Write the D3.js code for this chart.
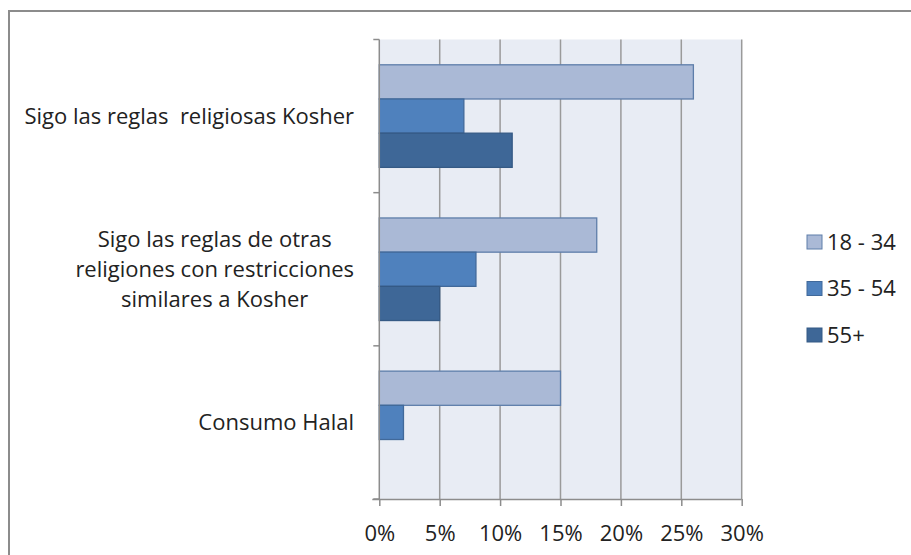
<!DOCTYPE html>
<html>
<head>
<meta charset="utf-8">
<script src="https://cdn.jsdelivr.net/npm/d3@7"></script>
<style>
  html, body { margin: 0; padding: 0; background: #fff; }
  svg { display: block; }
  text { font-family: "Open Sans", Lato, sans-serif; fill: #222; white-space: pre; }
</style>
</head>
<body>
<svg id="chart" width="911" height="555"></svg>
<script>
// ---- data ----
const categories = [
  ["Sigo las reglas  religiosas Kosher"],
  ["Sigo las reglas de otras", "religiones con restricciones", "similares a Kosher"],
  ["Consumo Halal"]
];
const seriesNames = ["18 - 34", "35 - 54", "55+"];
const values1834 = [26, 18, 15];
const values3554 = [7, 8, 2];
const values55 = [11, 5, 0];
const xTicks = [0, 5, 10, 15, 20, 25, 30];

const seriesValues = [values1834, values3554, values55];
const fills = ["#AAB9D6", "#4F81BD", "#3E6797"];
const strokes = ["#5E7EAA", "#41699A", "#355A85"];
const FONT = 22;

const svg = d3.select("#chart");

// outer border (chart area, cut off at right/bottom)
svg.append("rect")
  .attr("x", 9).attr("y", 11)
  .attr("width", 960).attr("height", 600)
  .attr("fill", "#fff").attr("stroke", "#8c8c8c").attr("stroke-width", 2);

const plot = { left: 379.3, right: 741.7, top: 39.5, bottom: 499 };

const x = d3.scaleLinear().domain([0, 30]).range([plot.left, plot.right]);
const y = d3.scaleBand().domain(d3.range(categories.length)).range([plot.top, plot.bottom]).paddingInner(0).paddingOuter(0);
const yInner = d3.scaleBand().domain(d3.range(seriesNames.length)).range([0, y.bandwidth()]).paddingInner(0).paddingOuter(0.74);

// plot background
svg.append("rect")
  .attr("x", plot.left).attr("y", plot.top)
  .attr("width", plot.right - plot.left).attr("height", plot.bottom - plot.top)
  .attr("fill", "#E8ECF4");

// gridlines
svg.append("g").selectAll("line").data(xTicks.slice(1)).join("line")
  .attr("x1", d => x(d)).attr("x2", d => x(d))
  .attr("y1", plot.top).attr("y2", plot.bottom)
  .attr("stroke", "#9a9a9a").attr("stroke-width", 1.5);

// bars
const gCat = svg.append("g").selectAll("g").data(categories).join("g")
  .attr("transform", (d, i) => `translate(0,${y(i)})`);

gCat.each(function(d, ci) {
  d3.select(this).selectAll("rect").data(seriesValues.map(s => s[ci])).join("rect")
    .attr("x", x(0))
    .attr("y", (v, si) => yInner(si))
    .attr("width", v => x(v) - x(0))
    .attr("height", yInner.bandwidth())
    .attr("fill", (v, si) => fills[si])
    .attr("stroke", (v, si) => v > 0 ? strokes[si] : "none")
    .attr("stroke-width", 1.3);
});

// x axis
const xAxis = d3.axisBottom(x).tickValues(xTicks).tickFormat(d => d + "%").tickSize(7).tickPadding(19);
const gx = svg.append("g").attr("transform", `translate(0,${plot.bottom})`).call(xAxis);
gx.select(".domain").attr("stroke", "#8c8c8c").attr("stroke-width", 1.5).attr("d", `M${plot.left - 7},0.5H${plot.right}`);
gx.selectAll(".tick line").attr("stroke", "#8c8c8c").attr("stroke-width", 1.5);
gx.selectAll(".tick text").attr("font-size", FONT).attr("fill", "#222").style("font-family", "'Open Sans', Lato, sans-serif");

// y axis
const yEdges = d3.range(categories.length + 1).map(i => plot.top + i * y.bandwidth());
const gy = svg.append("g");
gy.append("line").attr("x1", plot.left).attr("x2", plot.left).attr("y1", plot.top).attr("y2", plot.bottom)
  .attr("stroke", "#8c8c8c").attr("stroke-width", 1.5);
gy.selectAll("line.tk").data(yEdges).join("line").attr("class", "tk")
  .attr("x1", plot.left - 6).attr("x2", plot.left)
  .attr("y1", d => d).attr("y2", d => d)
  .attr("stroke", "#8c8c8c").attr("stroke-width", 1.5);

// category labels: block right-aligned at 354, lines centered within block
const lineH = 30;
const labelG = svg.append("g");
categories.forEach((lines, ci) => {
  const cy = y(ci) + y.bandwidth() / 2;
  const t = labelG.append("text").attr("font-size", FONT).attr("text-anchor", "middle");
  const widths = lines.map(l => {
    const s = labelG.append("text").attr("font-size", FONT).text(l);
    const w = s.node().getComputedTextLength(); s.remove(); return w;
  });
  const maxW = d3.max(widths);
  const cx = 354 - maxW / 2;
  lines.forEach((l, li) => {
    t.append("tspan").attr("x", cx)
      .attr("y", cy + (li - (lines.length - 1) / 2) * lineH)
      .attr("dy", "0.35em").text(l);
  });
});

// legend
const legend = svg.append("g").selectAll("g").data(seriesNames).join("g")
  .attr("transform", (d, i) => `translate(807,${242 + i * 46.5})`);
legend.append("rect").attr("x", 0).attr("y", -7).attr("width", 15).attr("height", 14)
  .attr("fill", (d, i) => fills[i]).attr("stroke", (d, i) => strokes[i]).attr("stroke-width", 1);
legend.append("text").attr("x", 20).attr("y", 0).attr("dy", "0.35em").attr("font-size", FONT).text(d => d);
</script>
</body>
</html>
